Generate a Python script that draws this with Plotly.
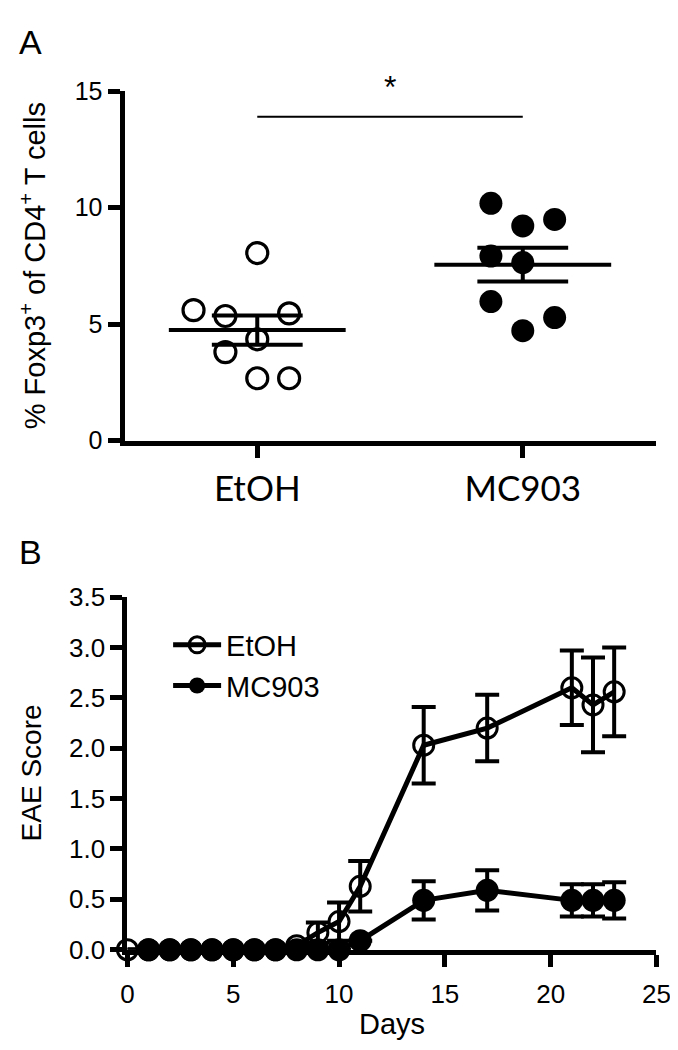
import numpy as np
import plotly.graph_objects as go

# ---------------- Panel A data ----------------
groups = ["EtOH", "MC903"]
foxp3_etoh = [8.05, 5.6, 5.35, 5.46, 4.35, 3.8, 2.68, 2.68]
foxp3_mc903 = [10.18, 9.21, 9.49, 7.92, 7.64, 5.97, 5.28, 4.72]
sig_label = "*"
sig_level = 13.9
a_yticks = [0, 5, 10, 15]

# ---------------- Panel B data ----------------
days_etoh = [0, 1, 2, 3, 4, 5, 6, 7, 8, 9, 10, 11, 14, 17, 21, 22, 23]
eae_etoh = [0, 0, 0, 0, 0, 0, 0, 0, 0.04, 0.17, 0.28, 0.63, 2.03, 2.2, 2.6, 2.43, 2.56]
eae_etoh_sem = [0, 0, 0, 0, 0, 0, 0, 0, 0, 0.1, 0.19, 0.25, 0.38, 0.33, 0.37, 0.47, 0.44]
days_mc903 = [1, 2, 3, 4, 5, 6, 7, 8, 9, 10, 11, 14, 17, 21, 22, 23]
eae_mc903 = [0, 0, 0, 0, 0, 0, 0, 0, 0, 0, 0.09, 0.49, 0.59, 0.49, 0.49, 0.49]
eae_mc903_sem = [0, 0, 0, 0, 0, 0, 0, 0, 0, 0, 0, 0.19, 0.2, 0.16, 0.16, 0.18]
b_xticks = [0, 5, 10, 15, 20, 25]
b_yticks = [0.0, 0.5, 1.0, 1.5, 2.0, 2.5, 3.0, 3.5]

# ---------------- layout constants ----------------
W, H = 678, 1050
JIT = 0.12
etoh_cols = [0, -2, -1, 1, 0, -1, 0, 1]
mc903_cols = [-1, 0, 1, -1, 0, -1, 1, 0]
MEAN_HW = 0.333
SEM_HW = 0.171
FONT = "Liberation Sans, Arial, sans-serif"
XFONT = "Lato, Calibri, sans-serif"


def px(xp):
    return xp / W


def py(yp):
    return 1 - yp / H


fig = go.Figure()

# Panel A points
for gi, (vals, cols, filled) in enumerate([(foxp3_etoh, etoh_cols, False),
                                          (foxp3_mc903, mc903_cols, True)]):
    xs = [gi + c * JIT for c in cols]
    if filled:
        marker = dict(symbol="circle", size=23, color="black")
    else:
        marker = dict(symbol="circle-open", size=21, color="black", line=dict(width=3.2))
    fig.add_trace(go.Scatter(x=xs, y=vals, mode="markers", marker=marker,
                             xaxis="x", yaxis="y", showlegend=False, cliponaxis=False))

# Panel A mean +/- SEM
for gi, vals in enumerate([foxp3_etoh, foxp3_mc903]):
    v = np.array(vals)
    m = v.mean()
    s = v.std(ddof=1) / np.sqrt(len(v))
    fig.add_trace(go.Scatter(x=[gi - MEAN_HW, gi + MEAN_HW], y=[m, m], mode="lines",
                             line=dict(color="black", width=4), xaxis="x", yaxis="y",
                             showlegend=False))
    fig.add_trace(go.Scatter(
        x=[gi - SEM_HW, gi + SEM_HW, None, gi - SEM_HW, gi + SEM_HW, None, gi, gi],
        y=[m + s, m + s, None, m - s, m - s, None, m - s, m + s],
        mode="lines", line=dict(color="black", width=4), xaxis="x", yaxis="y",
        showlegend=False))


def nz(a):
    return [e if e > 0 else None for e in a]


# Panel B
fig.add_trace(go.Scatter(
    x=days_mc903, y=eae_mc903, name="MC903", mode="lines+markers",
    line=dict(color="black", width=5),
    marker=dict(symbol="circle", size=23, color="black"),
    error_y=dict(type="data", array=nz(eae_mc903_sem), color="black", thickness=4, width=12),
    xaxis="x2", yaxis="y2", cliponaxis=False, legendrank=2))
fig.add_trace(go.Scatter(
    x=days_etoh, y=eae_etoh, name="EtOH", mode="lines+markers",
    line=dict(color="black", width=5),
    marker=dict(symbol="circle-open", size=20, color="black", line=dict(width=3)),
    error_y=dict(type="data", array=nz(eae_etoh_sem), color="black", thickness=4, width=12),
    xaxis="x2", yaxis="y2", cliponaxis=False, legendrank=1))

axis_common = dict(showline=True, linewidth=5, linecolor="black", ticks="outside",
                   ticklen=12, tickwidth=5, tickcolor="black", showgrid=False,
                   zeroline=False, fixedrange=True)

fig.update_layout(
    width=W, height=H,
    margin=dict(l=0, r=0, t=0, b=0),
    paper_bgcolor="white", plot_bgcolor="white",
    xaxis=dict(domain=[px(113), px(661)], range=[-0.5, 1.5], tickvals=[0, 1],
               ticktext=groups, tickfont=dict(family=XFONT, size=35, color="black"),
               ticklabelstandoff=1, anchor="y", **axis_common),
    yaxis=dict(domain=[py(430), py(70)], range=[0, 15], tickvals=a_yticks,
               tickfont=dict(family=FONT, size=25, color="black"),
               anchor="x", **axis_common),
    xaxis2=dict(domain=[px(116), px(662)], range=[0, 25], tickvals=b_xticks,
                tickfont=dict(family=FONT, size=26, color="black"),
                ticklabelstandoff=5, anchor="y2", **axis_common),
    yaxis2=dict(domain=[py(954), py(591)], range=[0, 3.5], tickvals=b_yticks,
                tickformat=".1f", tickfont=dict(family=FONT, size=26, color="black"),
                anchor="x2", **axis_common),
    legend=dict(x=px(158), y=py(614), xanchor="left", yanchor="top",
                font=dict(family=FONT, size=29, color="black"),
                bgcolor="rgba(0,0,0,0)", itemwidth=48),
    shapes=[dict(type="line", xref="x", yref="y", x0=0, x1=1, y0=sig_level, y1=sig_level,
                 line=dict(color="black", width=2))],
    annotations=[
        dict(text="A", x=px(2), y=py(20), xref="paper", yref="paper", xanchor="left",
             yanchor="middle", showarrow=False, font=dict(family=FONT, size=34, color="black")),
        dict(text="B", x=px(2), y=py(545), xref="paper", yref="paper", xanchor="left",
             yanchor="middle", showarrow=False, font=dict(family=FONT, size=34, color="black")),
        dict(text=sig_label, x=0.5, y=sig_level, xref="x", yref="y", yshift=30,
             showarrow=False, font=dict(family=FONT, size=32, color="black")),
        dict(text="% Foxp3<sup>+</sup> of CD4<sup>+</sup> T cells", textangle=-90,
             x=px(18), y=py(250), xref="paper", yref="paper", xanchor="center",
             yanchor="middle", showarrow=False,
             font=dict(family=FONT, size=29, color="black")),
        dict(text="EAE Score", textangle=-90, x=px(18), y=py(772), xref="paper",
             yref="paper", xanchor="center", yanchor="middle", showarrow=False,
             font=dict(family=FONT, size=28, color="black")),
        dict(text="Days", x=px(389), y=py(1030), xref="paper", yref="paper",
             xanchor="center", yanchor="middle", showarrow=False,
             font=dict(family=FONT, size=29, color="black")),
    ],
)

fig.write_html("out.html")
